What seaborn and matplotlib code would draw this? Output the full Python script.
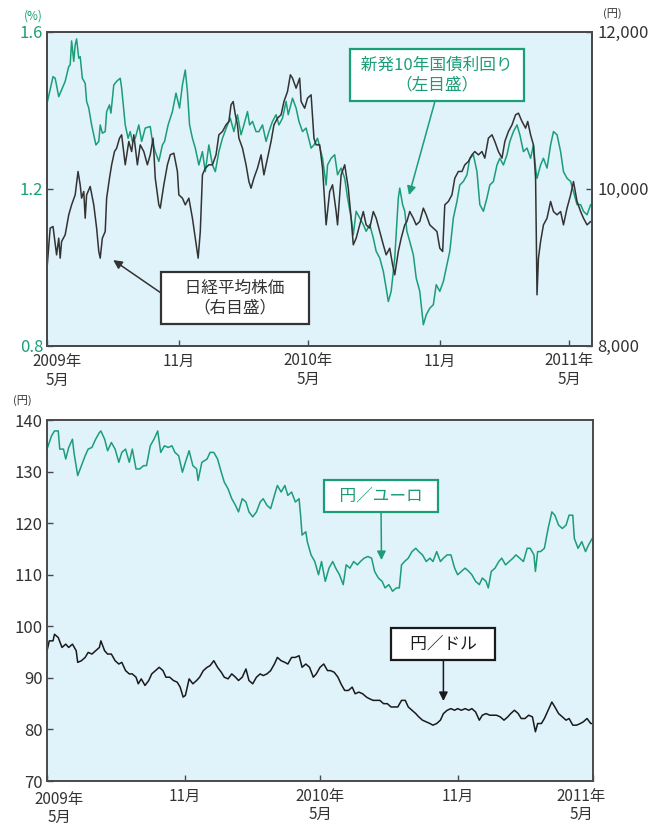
"""Japanese market chart: JGB 10y yield vs Nikkei (top), JPY vs EUR / USD (bottom).

Writes out.png (669x825).
"""

import matplotlib

matplotlib.use("Agg")
import matplotlib.pyplot as plt
import matplotlib.transforms as mtransforms
import pandas as pd
import seaborn as sns

START = pd.Timestamp("2009-05-01")

# --- top panel: new 10-year JGB yield (%, left axis), days since START
JGB_DAY = [
    0, 8, 11, 16, 25, 30, 32, 34, 37, 39, 41, 44, 46, 49, 53, 55, 58, 62, 65, 68,
    72, 74, 77, 81, 83, 87, 89, 93, 97, 102, 104, 109, 113, 116, 119, 123, 128, 132, 137, 144,
    147, 151, 156, 161, 164, 169, 175, 180, 185, 189, 193, 196, 199, 203, 207, 212, 217, 221, 226, 231,
    235, 240, 245, 252, 256, 261, 266, 271, 275, 280, 283, 287, 292, 296, 301, 306, 310, 315, 320, 324,
    329, 334, 337, 343, 348, 352, 357, 362, 369, 373, 378,
    385, 390, 392, 397, 402, 406, 411, 416, 420, 425, 428, 432, 437, 442, 446, 451, 456, 460, 465, 470,
    474, 477, 481, 486, 491, 493, 497, 500, 503, 507, 512, 516, 521, 526, 530, 535, 540, 544, 549, 554,
    558, 563, 568, 573, 577, 582, 587, 591, 596, 601, 605, 610, 615, 619, 624, 629, 633, 638, 643, 647,
    652, 657, 661, 666, 671, 676, 680, 683, 685, 690, 694, 699, 704, 708, 713, 718, 722, 727, 732, 736,
    741, 746, 750, 755, 760,
]
JGB_YIELD = [
    1.420, 1.485, 1.481, 1.434, 1.473, 1.511, 1.515, 1.576, 1.524, 1.566, 1.581, 1.532, 1.536, 1.481, 1.468, 1.422, 1.405, 1.362, 1.337, 1.311,
    1.320, 1.362, 1.341, 1.345, 1.396, 1.413, 1.392, 1.464, 1.473, 1.481, 1.456, 1.362, 1.328, 1.345, 1.320, 1.328, 1.362, 1.320, 1.354, 1.358,
    1.320, 1.294, 1.269, 1.311, 1.320, 1.362, 1.396, 1.443, 1.405, 1.464, 1.502, 1.447, 1.362, 1.328, 1.303, 1.260, 1.294, 1.243, 1.311, 1.260,
    1.243, 1.294, 1.328, 1.362, 1.379, 1.345, 1.388, 1.337, 1.362, 1.396, 1.362, 1.371, 1.345, 1.345, 1.362, 1.320, 1.345, 1.371, 1.388, 1.362,
    1.379, 1.422, 1.388, 1.430, 1.405, 1.371, 1.345, 1.354, 1.303, 1.311, 1.328,
    1.277, 1.209, 1.260, 1.277, 1.286, 1.235, 1.252, 1.226, 1.176, 1.125, 1.082, 1.142, 1.125, 1.108, 1.091, 1.108, 1.074, 1.040, 1.023, 0.989,
    0.946, 0.912, 0.938, 1.023, 1.176, 1.201, 1.159, 1.142, 1.091, 1.065, 1.031, 0.972, 0.938, 0.853, 0.878, 0.895, 0.904, 0.955, 0.938, 0.963,
    0.997, 1.040, 1.125, 1.167, 1.209, 1.218, 1.235, 1.277, 1.286, 1.243, 1.159, 1.142, 1.176, 1.209, 1.218, 1.260, 1.277, 1.260, 1.286, 1.320,
    1.345, 1.362, 1.337, 1.294, 1.303, 1.277, 1.311, 1.252, 1.226, 1.260, 1.277, 1.252, 1.311, 1.345, 1.337, 1.294, 1.243, 1.226, 1.218, 1.192,
    1.159, 1.159, 1.142, 1.133, 1.159,
]

# --- top panel: Nikkei 225 (yen, right axis)
NIKKEI_DAY = [
    0, 4, 8, 13, 16, 18, 20, 25, 30, 34, 39, 43, 46, 48, 51, 53, 55, 60, 65, 69,
    72, 74, 77, 81, 83, 87, 90, 94, 97, 101, 104, 109, 114, 118, 121, 126, 130, 135, 140, 144,
    148, 151, 156, 158, 163, 168, 172, 177, 182, 184, 189, 193, 198, 203, 207, 211, 214, 217, 221, 226,
    231, 236, 240, 245, 250, 254, 257, 260, 263, 266, 268, 273, 278, 282, 285, 289, 294, 299, 303, 308,
    313, 317, 322, 327, 331, 336, 340, 343, 348, 353, 355, 360, 364, 369, 373, 376,
    381, 385, 390, 395, 399, 404, 406, 411, 416, 421, 425, 428, 432, 437, 442, 446, 451, 456, 460, 465,
    470, 474, 479, 483, 486, 491, 495, 500, 503, 507, 512, 516, 521, 526, 530, 535, 540, 545, 549, 553,
    556, 561, 566, 570, 575, 580, 584, 589, 594, 598, 603, 608, 612, 617, 622, 626, 631, 636, 640, 645,
    650, 655, 659, 664, 669, 672, 676, 680, 683, 685, 687, 690, 694, 699, 704, 708, 713, 718, 722, 727,
    732, 736, 741, 746, 750, 755, 760,
]
NIKKEI_PRICE = [
    9028, 9495, 9516, 9155, 9367, 9113, 9325, 9410, 9665, 9792, 9919, 10217, 10047, 9877, 9962, 9622, 9919, 10026, 9792, 9495,
    9198, 9113, 9367, 9452, 9877, 10132, 10302, 10471, 10514, 10641, 10684, 10302, 10599, 10471, 10684, 10302, 10556, 10471, 10302, 10429,
    10641, 10132, 9792, 9750, 10047, 10302, 10429, 10450, 10217, 9919, 9877, 9792, 9877, 9622, 9367, 9113, 9452, 10174, 10259, 10302,
    10302, 10429, 10684, 10726, 10811, 10854, 11066, 11108, 10939, 10811, 10641, 10514, 10302, 10089, 10004, 10132, 10259, 10429, 10174, 10387,
    10599, 10811, 10896, 10939, 11108, 11236, 11448, 11406, 11278, 11406, 11108, 11023, 11151, 11193, 10641, 10556,
    10556, 10259, 9537, 9962, 10047, 9707, 9537, 10174, 10302, 10004, 9622, 9283, 9367, 9537, 9707, 9537, 9495, 9707, 9622, 9452,
    9283, 9155, 9240, 9028, 8900, 9198, 9367, 9537, 9580, 9707, 9622, 9537, 9580, 9750, 9665, 9537, 9495, 9452, 9240, 9198,
    9792, 9835, 9919, 10132, 10217, 10217, 10302, 10344, 10429, 10471, 10429, 10471, 10387, 10641, 10684, 10599, 10471, 10387, 10599, 10726,
    10811, 10939, 10960, 10854, 10769, 10854, 10684, 10556, 10132, 8646, 9113, 9325, 9537, 9622, 9835, 9707, 9665, 9707, 9537, 9750,
    9919, 10089, 9835, 9707, 9622, 9537, 9580,
]

# --- bottom panel: yen per euro
EUR_DAY = [
    0, 6, 10, 15, 17, 22, 25, 29, 34, 36, 41, 46, 51, 55, 60, 65, 70, 72, 77, 81,
    86, 91, 96, 100, 105, 110, 114, 119, 124, 129, 133, 138, 143, 148, 152, 157, 162, 167, 171, 176,
    181, 185, 190, 195, 200, 202, 207, 214, 218, 223, 228, 233, 237, 242, 247, 252, 256, 261, 266, 270,
    275, 280, 285, 289, 294, 299, 304, 308, 313, 318, 322, 327, 332, 337, 339, 341, 346, 348, 353, 358,
    363, 367, 372, 377, 382, 386, 391, 396, 400, 405, 410, 415, 419, 424, 429, 434, 438, 443, 448, 452,
    457, 462, 467, 471, 474, 478, 483, 488, 493, 497, 502, 507, 512, 516, 521, 526, 530, 535, 540, 545,
    549, 554, 559, 564, 568, 573, 578, 582, 587, 590, 594, 599, 604, 608, 613, 618, 623, 627, 632, 637,
    642, 646, 651, 653, 656, 660, 665, 670, 675, 679, 684, 689, 694, 698, 703, 705, 710, 715, 720, 724,
    729,
]
EUR_JPY = [
    134.36, 136.92, 137.88, 137.88, 134.36, 134.36, 132.44, 134.68, 136.28, 133.72, 129.23, 131.15, 133.08, 134.36, 134.68, 136.28, 137.56, 137.88, 136.28, 134.04,
    135.64, 134.36, 131.80, 133.72, 134.36, 131.80, 134.36, 130.51, 130.51, 131.15, 131.15, 135.00, 136.28, 137.88, 133.72, 135.00, 134.68, 135.00, 133.72, 133.08,
    129.87, 131.80, 134.04, 131.15, 130.51, 128.27, 131.80, 132.44, 133.72, 133.72, 132.44, 129.87, 127.95, 126.67, 124.74, 123.46, 122.18, 124.74, 124.10, 122.18,
    121.22, 122.18, 124.10, 124.74, 123.46, 122.82, 125.38, 127.31, 126.03, 127.31, 125.38, 126.03, 124.10, 124.74, 121.54, 117.69, 118.33, 116.41, 113.85, 112.56,
    110.00, 112.56, 108.72, 111.28, 112.56, 111.28, 110.00, 108.08, 111.92, 111.28, 112.56, 111.92, 112.56, 113.21, 113.53, 113.21, 110.64, 109.36, 108.72, 107.44,
    108.08, 106.80, 107.44, 107.44, 111.92, 112.56, 113.21, 114.49, 115.13, 114.49, 113.85, 112.56, 113.21, 112.56, 114.49, 112.56, 113.21, 113.85, 113.85, 111.28,
    110.00, 110.64, 111.28, 110.64, 110.00, 108.72, 108.08, 109.36, 108.72, 107.44, 110.64, 111.28, 112.56, 113.21, 111.92, 112.56, 113.21, 113.85, 113.21, 112.56,
    115.13, 115.13, 113.85, 110.64, 114.49, 114.49, 115.13, 118.97, 122.18, 121.54, 119.62, 118.97, 119.62, 121.54, 121.54, 117.05, 115.13, 116.41, 114.49, 115.77,
    117.05,
]

# --- bottom panel: yen per dollar
USD_DAY = [
    0, 3, 8, 10, 15, 20, 25, 29, 34, 39, 41, 46, 51, 55, 60, 65, 70, 72, 77, 81,
    86, 91, 96, 100, 105, 110, 114, 119, 122, 126, 131, 136, 140, 145, 150, 155, 159, 164, 169, 174,
    178, 182, 185, 190, 195, 200, 204, 209, 214, 218, 223, 228, 233, 237, 242, 247, 252, 256, 261, 266,
    270, 275, 280, 285, 289, 294, 299, 304, 308, 313, 318, 322, 327, 332, 337, 341, 346, 351, 356, 360,
    365, 370, 375, 379, 384, 389, 393, 398, 403, 408, 412, 417, 422, 427, 431, 436, 441, 445, 450, 455,
    460, 464, 469, 474, 479, 483, 488, 493, 497, 502, 507, 512, 516, 521, 526, 530, 535, 540, 545, 549,
    554, 559, 564, 568, 573, 578, 582, 587, 592, 597, 601, 606, 611, 616, 620, 625, 630, 634, 639, 644,
    649, 653, 656, 661, 665, 670, 675, 679, 684, 689, 694, 698, 703, 708, 713, 717, 722, 727, 729,
]
USD_JPY = [
    95.26, 97.18, 97.18, 98.46, 97.82, 95.90, 96.54, 95.90, 96.54, 95.26, 93.01, 93.33, 93.97, 94.94, 94.62, 95.26, 95.90, 97.18, 95.26, 94.62,
    94.62, 93.33, 92.69, 93.01, 91.41, 90.77, 90.77, 90.13, 88.85, 89.81, 88.53, 89.49, 90.77, 91.41, 92.05, 91.41, 90.13, 90.13, 89.49, 89.17,
    88.21, 86.28, 86.60, 89.81, 88.85, 89.49, 90.13, 91.41, 92.05, 92.37, 93.33, 92.05, 91.09, 90.13, 89.81, 90.77, 90.13, 89.49, 90.13, 91.73,
    89.49, 88.85, 90.13, 90.77, 90.45, 90.77, 91.41, 92.69, 93.97, 93.33, 93.01, 92.69, 93.97, 93.97, 94.30, 92.05, 92.69, 92.05, 90.13, 90.77,
    92.05, 92.69, 91.41, 91.41, 91.09, 90.13, 88.85, 87.56, 87.56, 88.21, 86.92, 87.24, 86.92, 86.28, 85.96, 85.64, 85.64, 85.64, 85.00, 85.00,
    84.36, 84.36, 84.36, 85.64, 85.64, 84.36, 83.72, 83.08, 82.44, 81.80, 81.47, 81.15, 80.83, 81.15, 81.80, 83.08, 83.72, 84.04, 83.72, 84.04,
    83.72, 84.04, 83.72, 84.04, 83.40, 81.80, 82.76, 83.08, 82.76, 82.76, 82.76, 82.44, 81.80, 82.44, 83.08, 83.72, 83.08, 82.12, 82.12, 82.76,
    82.44, 79.55, 81.15, 81.15, 82.12, 83.72, 85.32, 84.36, 83.08, 82.44, 81.80, 82.12, 80.83, 80.83, 81.15, 81.47, 82.12, 81.15, 81.15,
]

TICK_DATES = ["2009-05-01", "2009-11-01", "2010-05-01", "2010-11-01", "2011-05-01"]
TICK_LABELS = ["2009年\n5月", "11月", "2010年\n5月", "11月", "2011年\n5月"]

GREEN = "#1b9e78"
DARK = "#333333"
BLACK = "#1a1a1a"
BG = "#e0f2fa"
SPINE = "#4a4a4a"

sns.set_theme(style="white")
plt.rcParams["font.family"] = ["Noto Sans CJK JP", "DejaVu Sans"]


def frame(days, values):
    return pd.DataFrame({"date": START + pd.to_timedelta(days, unit="D"), "value": values})


def style_axes(ax):
    ax.set_facecolor(BG)
    for sp in ax.spines.values():
        sp.set_color(SPINE)
        sp.set_linewidth(1.4)
    ax.set_xlabel("")
    ax.set_ylabel("")


def date_ticks(ax, shifts):
    """Date ticks with two-line labels; shifts are (dx, dy) nudges in pixels."""
    ax.set_xticks(pd.to_datetime(TICK_DATES))
    ax.set_xticklabels(TICK_LABELS, linespacing=1.1)
    ax.tick_params(axis="x", bottom=True, direction="in", length=4, width=1,
                   color=SPINE, labelsize=11, labelcolor=DARK, pad=5)
    fig = ax.figure
    for lbl, (dx, dy) in zip(ax.get_xticklabels(), shifts):
        if dx or dy:
            lbl.set_transform(lbl.get_transform()
                              + mtransforms.ScaledTranslation(dx / 100, dy / 100,
                                                              fig.dpi_scale_trans))


def boxed(ax, text, xy, xytext, color, relpos=(0.5, 0)):
    ax.annotate(
        text, xy=xy, xytext=xytext, xycoords="axes fraction", textcoords="axes fraction",
        ha="center", va="center", multialignment="center", fontsize=12, color=color,
        linespacing=1.25,
        bbox=dict(boxstyle="square,pad=0.45", fc="white", ec=color, lw=1.6),
        arrowprops=dict(arrowstyle="-|>", color=color, lw=1.1, mutation_scale=13,
                        shrinkA=0, shrinkB=0, relpos=relpos),
        zorder=10,
    )


fig = plt.figure(figsize=(6.69, 8.25), dpi=100)

# ---------------- top panel
ax1 = fig.add_axes([0.0707, 0.5812, 0.8143, 0.3806])
sns.lineplot(data=frame(JGB_DAY, JGB_YIELD), x="date", y="value", ax=ax1,
             color=GREEN, linewidth=1.1, estimator=None)
ax1.set_ylim(0.8, 1.6)
ax1.set_xlim(pd.Timestamp("2009-05-01"), pd.Timestamp("2011-06-02"))
ax1.set_yticks([0.8, 1.2, 1.6])
ax1.set_yticklabels(["0.8", "1.2", "1.6"])
ax1.tick_params(axis="y", left=True, direction="in", length=4, width=1, color=SPINE,
                labelsize=12, labelcolor=GREEN, pad=3)
style_axes(ax1)
date_ticks(ax1, [(10, -1), (0, 0), (0, 0), (0, 0), (0, 0)])

ax1r = ax1.twinx()
sns.lineplot(data=frame(NIKKEI_DAY, NIKKEI_PRICE), x="date", y="value", ax=ax1r,
             color=DARK, linewidth=1.1, estimator=None)
ax1r.set_ylim(8000, 12000)
ax1r.set_yticks([8000, 10000, 12000])
ax1r.set_yticklabels(["8,000", "10,000", "12,000"])
ax1r.tick_params(axis="y", right=True, direction="in", length=4, width=1, color=SPINE,
                 labelsize=12, labelcolor=DARK, pad=4)
for sp in ax1r.spines.values():
    sp.set_color(SPINE)
    sp.set_linewidth(1.4)
ax1r.set_xlabel("")
ax1r.set_ylabel("")

ax1.text(-0.026, 1.05, "(%)", transform=ax1.transAxes, color=GREEN, fontsize=8.5,
         ha="center", va="center")
ax1.text(1.037, 1.056, "(円)", transform=ax1.transAxes, color=DARK, fontsize=8,
         ha="center", va="center")

boxed(ax1r, " 新発10年国債利回り \n（左目盛）", (0.664, 0.479), (0.7155, 0.8615), GREEN)
boxed(ax1r, "　日経平均株価　\n（右目盛）", (0.121, 0.272), (0.3445, 0.151), DARK,
      relpos=(0, 0.5))

# ---------------- bottom panel
ax2 = fig.add_axes([0.0703, 0.0533, 0.8161, 0.4376])
sns.lineplot(data=frame(EUR_DAY, EUR_JPY), x="date", y="value", ax=ax2,
             color=GREEN, linewidth=1.1, estimator=None)
sns.lineplot(data=frame(USD_DAY, USD_JPY), x="date", y="value", ax=ax2,
             color=BLACK, linewidth=1.1, estimator=None)
ax2.set_ylim(70, 140)
ax2.set_xlim(pd.Timestamp("2009-05-01"), pd.Timestamp("2011-05-01"))
ax2.set_yticks(range(70, 141, 10))
ax2.tick_params(axis="y", left=True, direction="in", length=4, width=1, color=SPINE,
                labelsize=12, labelcolor=DARK, pad=3)
style_axes(ax2)
date_ticks(ax2, [(12, -3), (0, 0), (0, 0), (0, 0), (-12, 0)])

ax2.text(-0.046, 1.053, "(円)", transform=ax2.transAxes, color=DARK, fontsize=8,
         ha="center", va="center")

boxed(ax2, "  円／ユーロ  ", (0.6126, 0.612), (0.6117, 0.7895), GREEN)
boxed(ax2, "   円／ドル   ", (0.726, 0.2216), (0.726, 0.3795), BLACK)

fig.savefig("out.png", dpi=100)
plt.close(fig)
